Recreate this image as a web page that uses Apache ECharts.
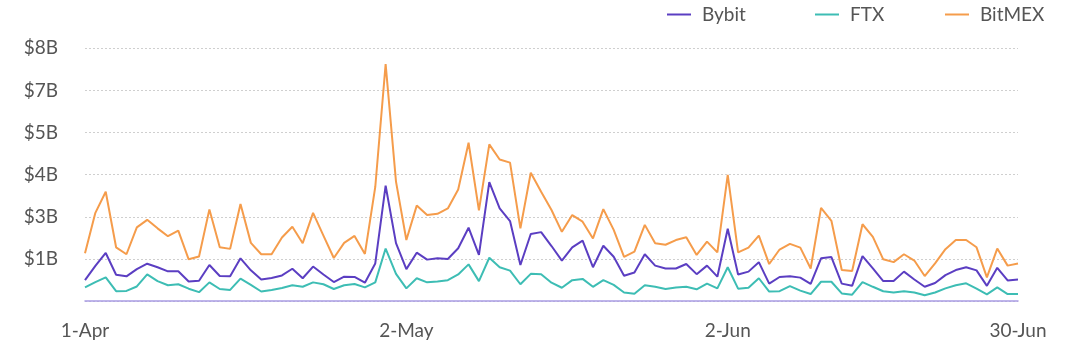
<!DOCTYPE html>
<html>
<head>
<meta charset="utf-8">
<script src="https://cdn.jsdelivr.net/npm/echarts@6/dist/echarts.min.js"></script>
<style>
html,body{margin:0;padding:0;background:#fff;}
#chart{width:1080px;height:356px;}
</style>
</head>
<body>
<div id="chart"></div>
<script>
// Daily values in billions of USD, 1-Apr to 30-Jun
const months = [['Apr', 30], ['May', 31], ['Jun', 30]];
const categories = [];
months.forEach(([m, n]) => { for (let d = 1; d <= n; d++) categories.push(d + '-' + m); });
const xTickLabels = ['1-Apr', '2-May', '2-Jun', '30-Jun'];
const seriesNames = ['Bybit', 'FTX', 'BitMEX'];

const bybit = [
  0.66,1.11,1.52,0.83,0.78,1.01,1.18,1.07,0.94,0.94,
  0.62,0.64,1.14,0.79,0.78,1.35,0.97,0.68,0.73,0.81,
  1.02,0.72,1.09,0.84,0.60,0.77,0.76,0.58,1.19,3.65,
  1.83,1.01,1.53,1.31,1.35,1.33,1.67,2.32,1.46,3.76,
  2.93,2.53,1.14,2.12,2.18,1.74,1.28,1.70,1.91,1.07,
  1.75,1.40,0.80,0.90,1.48,1.12,1.03,1.03,1.17,0.85,
  1.12,0.77,2.29,0.84,0.93,1.23,0.55,0.76,0.78,0.74,
  0.54,1.35,1.39,0.55,0.48,1.42,1.03,0.63,0.63,0.93,
  0.68,0.45,0.57,0.82,0.98,1.07,0.97,0.48,1.05,0.65,
  0.68
];
const ftx = [
  0.43,0.60,0.75,0.31,0.32,0.46,0.84,0.63,0.50,0.53,
  0.39,0.28,0.59,0.38,0.35,0.71,0.51,0.30,0.35,0.41,
  0.50,0.45,0.59,0.53,0.38,0.50,0.54,0.43,0.59,1.66,
  0.86,0.40,0.72,0.59,0.62,0.66,0.84,1.16,0.63,1.37,
  1.07,0.96,0.53,0.86,0.85,0.58,0.42,0.66,0.70,0.45,
  0.66,0.51,0.27,0.23,0.50,0.45,0.38,0.43,0.45,0.37,
  0.55,0.40,1.07,0.39,0.42,0.72,0.30,0.31,0.47,0.33,
  0.22,0.61,0.61,0.24,0.20,0.60,0.45,0.31,0.27,0.31,
  0.27,0.18,0.27,0.40,0.50,0.56,0.39,0.21,0.43,0.22,
  0.22
];
const bitmex = [
  1.51,2.79,3.46,1.70,1.48,2.33,2.57,2.30,2.05,2.23,
  1.32,1.41,2.90,1.70,1.65,3.07,1.84,1.48,1.48,2.01,
  2.35,1.83,2.79,2.07,1.36,1.84,2.06,1.49,3.61,7.50,
  3.78,1.93,3.02,2.72,2.76,2.93,3.53,5.01,2.87,4.96,
  4.48,4.38,2.30,4.06,3.46,2.88,2.19,2.72,2.51,1.98,
  2.91,2.25,1.40,1.56,2.41,1.83,1.78,1.93,2.02,1.46,
  1.88,1.54,3.99,1.54,1.69,2.07,1.17,1.63,1.81,1.69,
  1.03,2.95,2.54,0.98,0.95,2.43,2.03,1.32,1.23,1.48,
  1.28,0.79,1.19,1.64,1.93,1.93,1.70,0.75,1.66,1.12,
  1.19
];
const colors = ['#5b3ec2', '#3dbdb4', '#f59c4b'];
const legendLefts = [662, 810, 940];

const chart = echarts.init(document.getElementById('chart'), null, {renderer: 'canvas'});
const font = '"Source Sans Pro", Lato, "Noto Sans", sans-serif';
const mkSeries = (name, data, color) => ({
  name, type: 'line', data, symbol: 'none', showSymbol: false,
  lineStyle: {color, width: 2}, itemStyle: {color}, animation: false
});
chart.setOption({
  animation: false,
  color: colors,
  textStyle: {fontFamily: font},
  legend: seriesNames.map((n, i) => ({
    data: [{name: n, icon: 'rect'}], left: legendLefts[i], top: 0, itemWidth: 24, itemHeight: 2,
    textStyle: {fontSize: 19, color: '#555', fontFamily: font, padding: [0, 0, 0, 6]}
  })),
  grid: {left: 85, right: 62, top: 48.3, bottom: 55, containLabel: false},
  xAxis: {
    type: 'category', data: categories, boundaryGap: false,
    axisLine: {lineStyle: {color: '#a99ce3', width: 1.5}},
    axisTick: {show: false},
    axisLabel: {
      interval: (i, v) => xTickLabels.includes(v),
      color: '#555', fontSize: 19, fontFamily: font, margin: 20
    },
    splitLine: {show: false}
  },
  yAxis: {
    type: 'value', min: 0, max: 8, interval: 8 / 6,
    axisLine: {show: false}, axisTick: {show: false},
    axisLabel: {
      formatter: v => v === 0 ? '' : '$' + Math.round(v) + 'B',
      color: '#555', fontSize: 19, fontFamily: font, margin: 27
    },
    splitLine: {lineStyle: {color: '#cfcfcf', type: [2, 2], width: 1}}
  },
  series: [
    mkSeries('Bybit', bybit, colors[0]),
    mkSeries('FTX', ftx, colors[1]),
    mkSeries('BitMEX', bitmex, colors[2])
  ]
});
</script>
</body>
</html>
